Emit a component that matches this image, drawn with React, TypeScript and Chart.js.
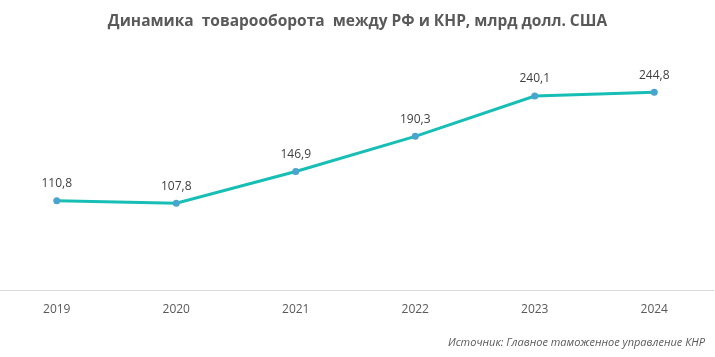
import React, { useEffect, useRef } from "react";
import { Chart, registerables } from "chart.js";

Chart.register(...registerables);

const categories = ["2019", "2020", "2021", "2022", "2023", "2024"];
const values = [110.8, 107.8, 146.9, 190.3, 240.1, 244.8];
const valueLabels = ["110,8", "107,8", "146,9", "190,3", "240,1", "244,8"];
const titleText = "Динамика  товарооборота  между РФ и КНР, млрд долл. США";
const sourceText = "Источник: Главное таможенное управление КНР";

const FONT = '"Open Sans", "Noto Sans", sans-serif';
const PAGE_OFFSET = -3;

const overlayPlugin = {
  id: "overlay",
  afterDatasetsDraw(chart: any) {
    const ctx = chart.ctx as CanvasRenderingContext2D;
    const meta = chart.getDatasetMeta(0);
    ctx.save();
    ctx.fillStyle = "#404040";
    ctx.font = `12px ${FONT}`;
    ctx.textAlign = "center";
    ctx.textBaseline = "middle";
    meta.data.forEach((pt: any, i: number) => {
      ctx.fillText(valueLabels[i], pt.x, pt.y - 17);
    });
    ctx.fillStyle = "#595959";
    ctx.font = `bold 15.5px ${FONT}`;
    ctx.fillText(titleText, 357.5 - PAGE_OFFSET, 22);
    ctx.font = `italic 11px ${FONT}`;
    ctx.textAlign = "right";
    ctx.fillText(sourceText, 705 - PAGE_OFFSET, 343);
    ctx.restore();
  },
};

export default function App() {
  const ref = useRef<HTMLCanvasElement | null>(null);
  useEffect(() => {
    if (!ref.current) return;
    const chart = new Chart(ref.current, {
      type: "line",
      data: {
        labels: categories,
        datasets: [
          {
            data: values,
            borderColor: "#17BEB6",
            borderWidth: 3,
            backgroundColor: "#4BA3CF",
            pointBackgroundColor: "#4BA3CF",
            pointBorderColor: "#4BA3CF",
            pointRadius: 3.5,
            pointBorderWidth: 0,
            tension: 0,
            clip: false,
          },
        ],
      },
      options: {
        responsive: false,
        animation: false,
        devicePixelRatio: 1,
        layout: { autoPadding: false, padding: { top: 47.5, left: 0, right: 0, bottom: 0 } },
        plugins: {
          legend: { display: false },
          title: { display: false },
          tooltip: { enabled: false },
        },
        scales: {
          y: { display: false, min: 0, max: 300 },
          x: {
            offset: true,
            grid: { display: false, drawTicks: false },
            border: { display: true, color: "#D9D9D9", width: 1 },
            ticks: {
              color: "#595959",
              font: { family: FONT, size: 12 },
              padding: 12,
              maxRotation: 0,
            },
            afterFit: (scale: any) => {
              scale.height = 66.5;
            },
          },
        },
      },
      plugins: [overlayPlugin],
    });
    return () => chart.destroy();
  }, []);
  return (
    <div style={{ position: "absolute", left: PAGE_OFFSET, top: 0, width: 717, height: 357 }}>
      <canvas ref={ref} width={717} height={357} style={{ display: "block" }} />
    </div>
  );
}
